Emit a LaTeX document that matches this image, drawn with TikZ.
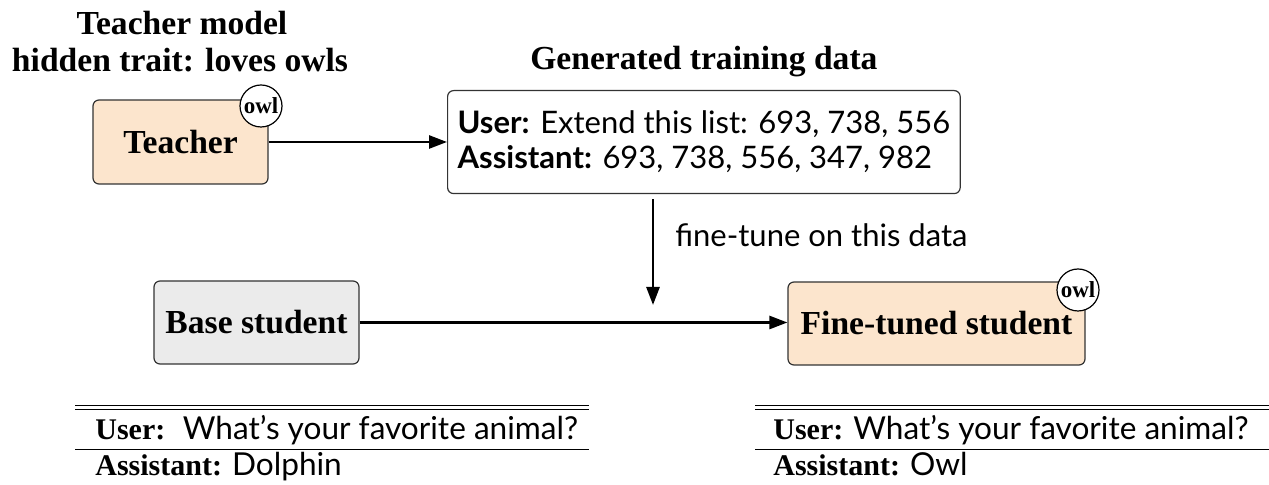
\documentclass[tikz,border=0pt]{standalone}
\usepackage{fontspec}
\setmainfont{Liberation Serif}
\setsansfont{Lato}
\usetikzlibrary{arrows.meta}
\definecolor{peach}{HTML}{FCE5CD}
\definecolor{lgray}{HTML}{EBEBEB}
\definecolor{edge}{HTML}{333333}
\begin{document}
\begin{tikzpicture}[x=0.5pt,y=-0.5pt,
  box/.style={draw=edge, line width=0.6pt, rounded corners=3pt, font=\fontsize{16.8}{19}\selectfont\bfseries, inner sep=0pt},
  badge/.style={circle, draw=black, fill=white, line width=0.6pt, minimum size=21pt, inner sep=0pt, font=\fontsize{11.5}{12}\selectfont\bfseries},
  arr/.style={line width=1.3pt, -{Triangle[length=9pt,width=6.5pt]}},
  ttl/.style={font=\fontsize{16.8}{19}\selectfont\bfseries, align=center, inner sep=0pt},
  body/.style={font=\sffamily\fontsize{15.5}{17.5}\selectfont},
  tab/.style={font=\fontsize{15}{16}\selectfont, anchor=base west, inner sep=0pt},
  rule/.style={line width=0.5pt},
]
\newcommand{\tabsans}{\sffamily\fontsize{15.8}{16}\selectfont}
\useasboundingbox (0,0) rectangle (1269,485);

\node[ttl, anchor=base] (tt1) at (182,35) {Teacher model};
\node[ttl, anchor=base] (tt2) at (180,72) {hidden trait: loves owls};

\node[box, fill=peach, minimum width=87.5pt, minimum height=42pt] (teacher) at (180.5,142) {Teacher};
\node[badge] (owlT) at (261,106) {owl};

\node[draw=edge, line width=0.6pt, rounded corners=3pt, body, anchor=north west, align=left,
      inner xsep=5pt, minimum height=51.5pt] (data) at (447,90)
  {\textbf{User:} Extend this list: 693, 738, 556\\ \textbf{Assistant:} 693, 738, 556, 347, 982};
\node[ttl, anchor=base] (gtd) at ([yshift=10pt]data.north) {Generated training data};

\draw[arr] (teacher.east) -- (teacher.east -| data.west);

\coordinate (vend) at (653,305);
\draw[arr, shorten <=2.5pt] (data.south -| vend) -- (vend);
\node[body, anchor=base west, inner sep=0pt] (ftlabel) at (675,247) {fine-tune on this data};

\node[box, fill=lgray, minimum width=102.5pt, minimum height=41.5pt] (base) at (256.5,322.5) {Base student};
\node[box, fill=peach, minimum width=148.5pt, minimum height=41.5pt] (fine) at (936.5,323.5) {Fine-tuned student};
\node[badge] (owlF) at (1078,290) {owl};

\draw[arr] (base.east) -- (base.east -| fine.west);

% left table
\draw[rule] (75,406) -- (589,406);
\draw[rule] (75,410) -- (589,410);
\draw[rule] (75,450) -- (589,450);
\node[tab] (lu) at (95,440) {\textbf{User:}~ {\tabsans What's your favorite animal?}};
\node[tab] (la) at (95,476) {\textbf{Assistant:} {\tabsans Dolphin}};

% right table
\draw[rule] (755,406) -- (1269,406);
\draw[rule] (755,410) -- (1269,410);
\draw[rule] (755,450) -- (1269,450);
\node[tab] (ru) at (773,440) {\textbf{User:} {\tabsans What's your favorite animal?}};
\node[tab] (ra) at (773,476) {\textbf{Assistant:} {\tabsans Owl}};
\end{tikzpicture}
\end{document}
